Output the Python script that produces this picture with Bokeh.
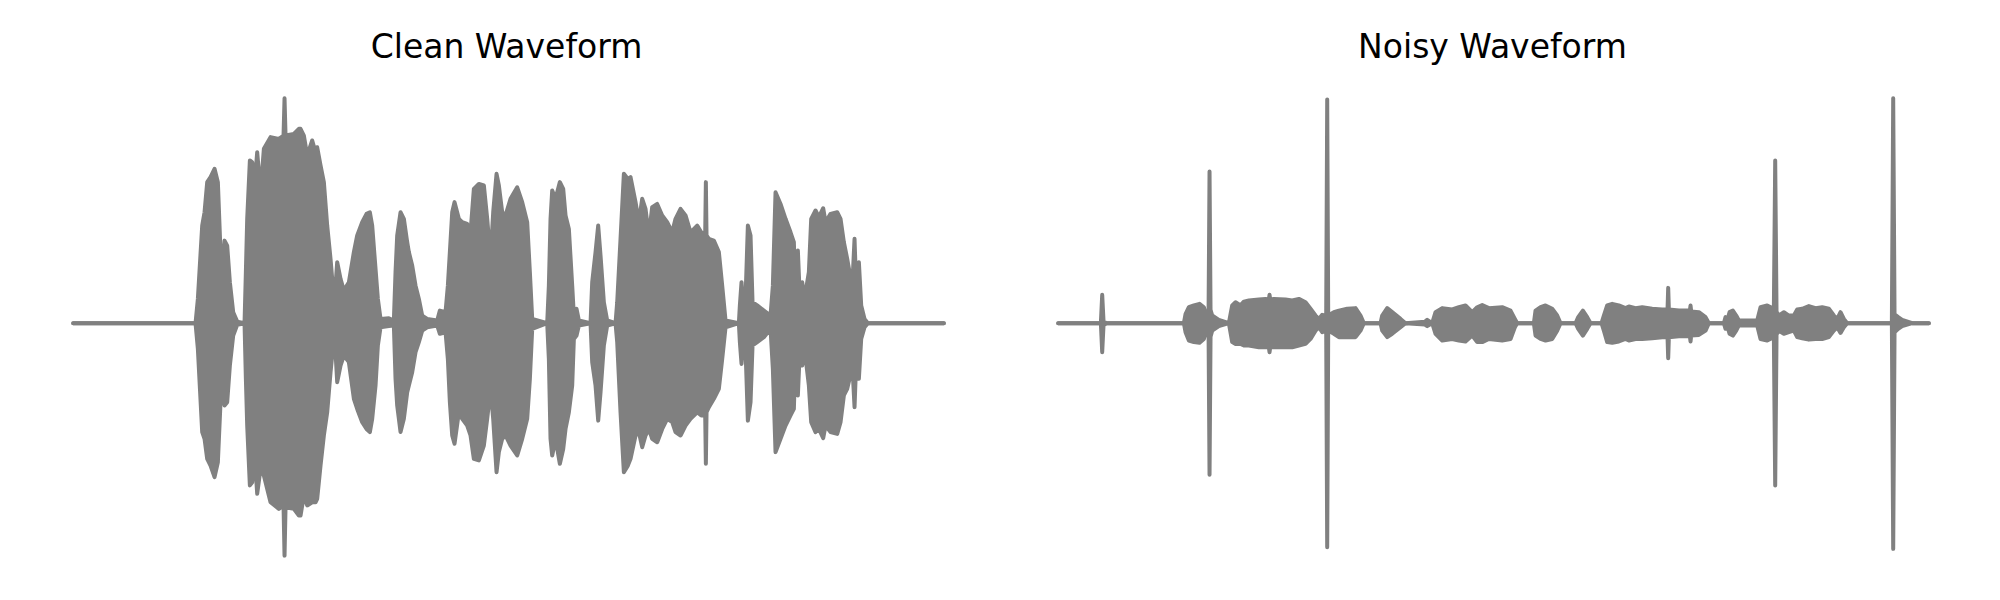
from bokeh.plotting import figure
from bokeh.layouts import row
from bokeh.models import Range1d
from bokeh.embed import file_html
from bokeh.resources import INLINE

# ---- data: amplitude envelopes (time in s, amplitude normalised) ----
titles = ["Clean Waveform", "Noisy Waveform"]

clean_t = [
    0.000, 0.367, 0.374, 0.387, 0.394, 0.402, 0.412, 0.424, 0.434, 0.442,
    0.447, 0.454, 0.462, 0.470, 0.480, 0.492, 0.514, 0.518, 0.522, 0.530,
    0.537, 0.544, 0.552, 0.562, 0.572, 0.592, 0.617, 0.631, 0.634, 0.637,
    0.662, 0.677, 0.682, 0.692, 0.702, 0.717, 0.727, 0.732, 0.742, 0.752,
    0.762, 0.772, 0.782, 0.787, 0.792, 0.802, 0.812, 0.827, 0.842, 0.852,
    0.867, 0.880, 0.890, 0.897, 0.907, 0.914, 0.922, 0.947, 0.962, 0.967,
    0.972, 0.982, 0.992, 1.002, 1.007, 1.017, 1.027, 1.037, 1.047, 1.062,
    1.092, 1.100, 1.117, 1.124, 1.130, 1.137, 1.144, 1.157, 1.167, 1.182,
    1.192, 1.202, 1.217, 1.232, 1.242, 1.252, 1.260, 1.270, 1.277, 1.287,
    1.297, 1.312, 1.332, 1.347, 1.362, 1.370, 1.377, 1.422, 1.427, 1.432,
    1.437, 1.447, 1.460, 1.470, 1.477, 1.487, 1.497, 1.502, 1.510, 1.517,
    1.552, 1.557, 1.567, 1.575, 1.582, 1.592, 1.602, 1.627, 1.632, 1.642,
    1.652, 1.664, 1.672, 1.687, 1.697, 1.707, 1.717, 1.727, 1.737, 1.752,
    1.767, 1.782, 1.797, 1.807, 1.822, 1.837, 1.852, 1.872, 1.884, 1.896,
    1.898, 1.900, 1.907, 1.922, 1.937, 1.947, 1.957, 1.997, 2.000, 2.005,
    2.010, 2.017, 2.024, 2.032, 2.038, 2.052, 2.072, 2.092, 2.099, 2.107,
    2.122, 2.137, 2.152, 2.162, 2.167, 2.174, 2.180, 2.187, 2.194, 2.207,
    2.214, 2.227, 2.237, 2.250, 2.257, 2.272, 2.292, 2.302, 2.312, 2.322,
    2.329, 2.335, 2.344, 2.350, 2.357, 2.364, 2.374, 2.384, 2.612,
]
clean_upper = [
    0, 0, 0.108, 0.434, 0.493, 0.627, 0.649, 0.686, 0.627, 0.316,
    0.227, 0.367, 0.345, 0.182, 0.049, 0.007, 0, 0.227, 0.464, 0.723,
    0.716, 0.612, 0.760, 0.582, 0.775, 0.827, 0.819, 0.834, 1.000, 0.834,
    0.841, 0.864, 0.864, 0.834, 0.745, 0.812, 0.760, 0.782, 0.701, 0.627,
    0.434, 0.286, 0.108, 0.167, 0.271, 0.197, 0.145, 0.182, 0.316, 0.390,
    0.449, 0.486, 0.493, 0.434, 0.241, 0.108, 0.019, 0.022, 0.012, 0.227,
    0.390, 0.493, 0.464, 0.360, 0.316, 0.256, 0.167, 0.108, 0.034, 0.019,
    0.012, 0.056, 0.049, 0.167, 0.316, 0.493, 0.538, 0.464, 0.449, 0.441,
    0.404, 0.597, 0.619, 0.612, 0.464, 0.286, 0.493, 0.664, 0.612, 0.493,
    0.479, 0.553, 0.604, 0.538, 0.449, 0.227, 0.019, 0, 0.167, 0.464,
    0.590, 0.553, 0.627, 0.597, 0.479, 0.419, 0.167, 0.034, 0.064, 0.012,
    0, 0.182, 0.316, 0.434, 0.300, 0.093, 0.012, 0, 0.093, 0.375,
    0.664, 0.641, 0.649, 0.538, 0.449, 0.553, 0.508, 0.390, 0.516, 0.530,
    0.479, 0.449, 0.404, 0.464, 0.508, 0.479, 0.404, 0.434, 0.404, 0.397,
    0.627, 0.390, 0.375, 0.367, 0.316, 0.167, 0.012, 0, 0.079, 0.182,
    0.079, 0.108, 0.434, 0.390, 0.093, 0.079, 0.056, 0.034, 0.167, 0.582,
    0.530, 0.464, 0.404, 0.360, 0.108, 0.323, 0.108, 0.182, 0.108, 0.227,
    0.464, 0.501, 0.471, 0.511, 0.449, 0.486, 0.493, 0.464, 0.360, 0.286,
    0.227, 0.093, 0.375, 0.108, 0.271, 0.079, 0.019, 0, 0,
]
clean_lower = [
    0, 0, -0.114, -0.484, -0.514, -0.603, -0.633, -0.684, -0.618, -0.351,
    -0.277, -0.366, -0.351, -0.188, -0.055, -0.007, 0, -0.247, -0.455, -0.721,
    -0.707, -0.573, -0.758, -0.647, -0.677, -0.796, -0.825, -0.810, -1.033, -0.818,
    -0.825, -0.855, -0.855, -0.766, -0.810, -0.796, -0.796, -0.781, -0.633, -0.499,
    -0.396, -0.218, -0.070, -0.129, -0.262, -0.188, -0.144, -0.173, -0.336, -0.381,
    -0.440, -0.470, -0.484, -0.425, -0.277, -0.099, -0.018, -0.013, -0.010, -0.247,
    -0.366, -0.484, -0.425, -0.307, -0.277, -0.218, -0.129, -0.084, -0.033, -0.018,
    -0.010, -0.047, -0.040, -0.159, -0.351, -0.499, -0.536, -0.396, -0.425, -0.455,
    -0.499, -0.603, -0.610, -0.544, -0.425, -0.292, -0.425, -0.662, -0.573, -0.514,
    -0.499, -0.544, -0.588, -0.514, -0.425, -0.247, -0.025, 0, -0.159, -0.514,
    -0.588, -0.514, -0.625, -0.559, -0.470, -0.396, -0.277, -0.070, -0.055, -0.010,
    0, -0.173, -0.277, -0.433, -0.307, -0.099, -0.010, 0, -0.084, -0.396,
    -0.662, -0.633, -0.603, -0.499, -0.484, -0.551, -0.499, -0.470, -0.514, -0.529,
    -0.470, -0.425, -0.440, -0.484, -0.499, -0.455, -0.425, -0.396, -0.410, -0.410,
    -0.625, -0.396, -0.373, -0.336, -0.292, -0.159, -0.018, 0, -0.084, -0.181,
    -0.084, -0.114, -0.433, -0.351, -0.099, -0.084, -0.062, -0.025, -0.203, -0.573,
    -0.514, -0.455, -0.410, -0.381, -0.129, -0.321, -0.114, -0.188, -0.114, -0.277,
    -0.440, -0.484, -0.470, -0.511, -0.455, -0.484, -0.492, -0.440, -0.321, -0.292,
    -0.247, -0.114, -0.373, -0.129, -0.247, -0.070, -0.018, 0, 0,
]

noisy_t = [
    0.000, 0.128, 0.132, 0.136, 0.145, 0.377, 0.382, 0.392, 0.407, 0.424,
    0.437, 0.444, 0.451, 0.454, 0.457, 0.462, 0.482, 0.512, 0.522, 0.532,
    0.547, 0.557, 0.572, 0.602, 0.622, 0.632, 0.634, 0.636, 0.647, 0.682,
    0.702, 0.722, 0.742, 0.757, 0.772, 0.782, 0.792, 0.804, 0.807, 0.810,
    0.827, 0.842, 0.867, 0.892, 0.907, 0.917, 0.967, 0.972, 0.987, 1.002,
    1.027, 1.042, 1.100, 1.107, 1.122, 1.132, 1.152, 1.182, 1.202, 1.222,
    1.242, 1.257, 1.272, 1.292, 1.332, 1.357, 1.370, 1.377, 1.427, 1.432,
    1.447, 1.462, 1.482, 1.497, 1.507, 1.552, 1.560, 1.574, 1.587, 1.597,
    1.630, 1.637, 1.647, 1.662, 1.682, 1.702, 1.712, 1.732, 1.752, 1.782,
    1.812, 1.828, 1.830, 1.832, 1.862, 1.895, 1.897, 1.899, 1.922, 1.942,
    1.952, 1.997, 2.002, 2.007, 2.014, 2.024, 2.034, 2.042, 2.097, 2.107,
    2.127, 2.147, 2.151, 2.155, 2.162, 2.177, 2.192, 2.207, 2.217, 2.232,
    2.252, 2.272, 2.292, 2.312, 2.327, 2.337, 2.347, 2.357, 2.367, 2.501,
    2.505, 2.509, 2.520, 2.532, 2.562, 2.612,
]
noisy_upper = [
    0, 0, 0.126, 0.008, 0, 0, 0.040, 0.071, 0.079, 0.086,
    0.071, 0.034, 0.020, 0.674, 0.060, 0.034, 0.015, 0, 0.079, 0.093,
    0.079, 0.096, 0.101, 0.105, 0.108, 0.105, 0.126, 0.105, 0.108, 0.105,
    0.101, 0.108, 0.093, 0.064, 0.034, 0.019, 0.037, 0.034, 0.994, 0.034,
    0.049, 0.056, 0.064, 0.067, 0.034, 0, 0, 0.034, 0.067, 0.049,
    0.019, 0, 0.006, 0.015, 0, 0.049, 0.067, 0.061, 0.071, 0.079,
    0.049, 0.071, 0.081, 0.067, 0.071, 0.056, 0.019, 0, 0, 0.056,
    0.071, 0.079, 0.064, 0.034, 0, 0, 0.027, 0.056, 0.027, 0,
    0, 0.034, 0.079, 0.086, 0.079, 0.067, 0.074, 0.067, 0.071, 0.064,
    0.061, 0.061, 0.157, 0.061, 0.056, 0.056, 0.079, 0.052, 0.049, 0.027,
    0, 0, 0.027, 0.012, 0.049, 0.056, 0.034, 0.012, 0.012, 0.071,
    0.079, 0.064, 0.723, 0.050, 0.034, 0.049, 0.034, 0.034, 0.061, 0.064,
    0.076, 0.067, 0.071, 0.064, 0.034, 0.019, 0.049, 0.019, 0, 0,
    1.000, 0.040, 0.027, 0.015, 0, 0,
]
noisy_lower = [
    0, 0, -0.129, -0.008, 0, 0, -0.040, -0.077, -0.084, -0.087,
    -0.070, -0.033, -0.020, -0.674, -0.060, -0.033, -0.013, 0, -0.084, -0.092,
    -0.092, -0.099, -0.099, -0.107, -0.107, -0.107, -0.129, -0.107, -0.107, -0.107,
    -0.107, -0.099, -0.092, -0.070, -0.033, -0.018, -0.040, -0.033, -0.996, -0.033,
    -0.047, -0.062, -0.062, -0.062, -0.033, 0, 0, -0.033, -0.062, -0.047,
    -0.018, 0, -0.006, -0.013, 0, -0.047, -0.077, -0.070, -0.077, -0.081,
    -0.055, -0.084, -0.084, -0.070, -0.077, -0.070, -0.018, 0, 0, -0.055,
    -0.070, -0.077, -0.070, -0.033, 0, 0, -0.025, -0.055, -0.025, 0,
    0, -0.033, -0.084, -0.087, -0.081, -0.070, -0.077, -0.070, -0.070, -0.067,
    -0.062, -0.062, -0.156, -0.062, -0.058, -0.058, -0.081, -0.055, -0.052, -0.033,
    0, 0, -0.025, -0.010, -0.047, -0.055, -0.033, -0.010, -0.010, -0.070,
    -0.077, -0.062, -0.721, -0.050, -0.033, -0.047, -0.040, -0.033, -0.062, -0.067,
    -0.073, -0.070, -0.070, -0.062, -0.033, -0.018, -0.043, -0.018, 0, 0,
    -1.003, -0.040, -0.025, -0.013, 0, 0,
]

assert len(clean_t) == len(clean_upper) == len(clean_lower)
assert len(noisy_t) == len(noisy_upper) == len(noisy_lower)

# ---- layout / style ----
GRAY = "#808080"
FONT = "DejaVu Sans"
HEIGHT = 590
PX_PER_S = 1000.0 / 3.0      # horizontal scale
PX_PER_UNIT = 225.0          # vertical scale (amplitude 1.0)
FRAME_TOP = 70.0             # top border (holds the title)
CENTER_Y = 322.7             # y of zero line on the page
W_LEFT, W_RIGHT = 1012, 960


def panel(title, t, up, lo, width, lead_px):
    x0 = -lead_px / PX_PER_S
    x1 = (width - lead_px) / PX_PER_S
    y1 = (CENTER_Y - FRAME_TOP) / PX_PER_UNIT
    y0 = -(HEIGHT - CENTER_Y) / PX_PER_UNIT
    p = figure(width=width, height=HEIGHT, output_backend="svg",
               toolbar_location=None, x_range=Range1d(x0, x1),
               y_range=Range1d(y0, y1), title=title,
               min_border_left=0, min_border_right=0,
               min_border_top=int(FRAME_TOP), min_border_bottom=0)
    p.axis.visible = False
    p.grid.visible = False
    p.outline_line_color = None
    p.background_fill_color = "white"
    p.border_fill_color = "white"
    p.title.align = "center"
    p.title.text_font = FONT
    p.title.text_font_style = "normal"
    p.title.text_font_size = "33px"
    p.title.text_color = "black"
    p.varea(x=t, y1=lo, y2=up, fill_color=GRAY, fill_alpha=1.0)
    for ys in (up, lo):
        p.line(t, ys, line_color=GRAY, line_width=4,
               line_join="round", line_cap="round")
    return p


p1 = panel(titles[0], clean_t, clean_upper, clean_lower, W_LEFT, 72.7)
p2 = panel(titles[1], noisy_t, noisy_upper, noisy_lower, W_RIGHT, 1057.7 - W_LEFT)
layout = row(p1, p2)

open("out.html", "w").write(file_html(layout, INLINE))
